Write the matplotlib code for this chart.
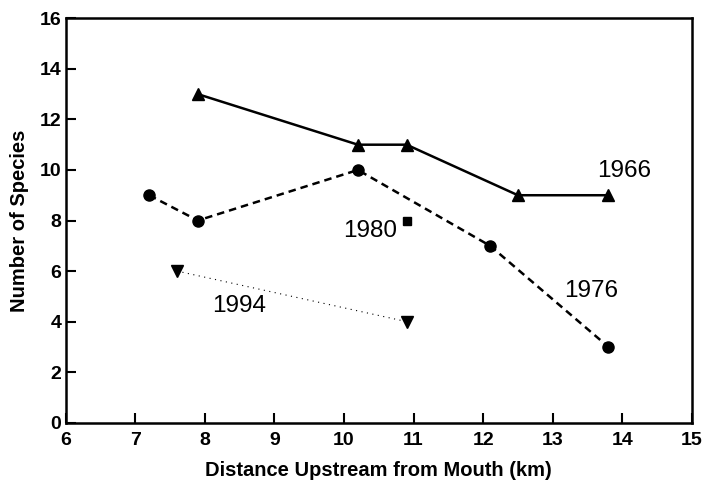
import matplotlib.pyplot as plt

# 物种数随离河口距离的变化
x_1966 = [7.9, 10.2, 10.9, 12.5, 13.8]
y_1966 = [13, 11, 11, 9, 9]

x_1976 = [7.2, 7.9, 10.2, 12.1, 13.8]
y_1976 = [9, 8, 10, 7, 3]

x_1980 = [10.9]
y_1980 = [8]

x_1994 = [7.6, 10.9]
y_1994 = [6, 4]

plt.rcParams['font.family'] = ['Liberation Sans', 'DejaVu Sans']

fig = plt.figure(figsize=(7.06, 4.82), dpi=100)
ax = fig.add_axes([0.093, 0.123, 0.887, 0.839])

ax.plot(x_1966, y_1966, color='black', linestyle='-', linewidth=1.8,
        marker='^', markersize=8)
ax.plot(x_1976, y_1976, color='black', linestyle=(0, (3, 2)), linewidth=1.8,
        marker='o', markersize=8)
ax.plot(x_1980, y_1980, color='black', linestyle='none', marker='s', markersize=6)
ax.plot(x_1994, y_1994, color='black', linestyle=(0, (1, 4)), linewidth=0.8,
        marker='v', markersize=8)

# 曲线标注
ax.text(14.03, 9.95, '1966', fontsize=17.5, ha='center', va='center')
ax.text(13.55, 5.2, '1976', fontsize=17.5, ha='center', va='center')
ax.text(10.37, 7.6, '1980', fontsize=17.5, ha='center', va='center')
ax.text(8.5, 4.6, '1994', fontsize=17.5, ha='center', va='center')

ax.set_xlim(6, 15)
ax.set_ylim(0, 16)
ax.set_xticks(range(6, 16))
ax.set_yticks(range(0, 17, 2))

ax.set_xlabel('Distance Upstream from Mouth (km)', fontsize=14.5, fontweight='bold', labelpad=8)
ax.set_ylabel('Number of Species', fontsize=14.5, fontweight='bold', labelpad=8)

ax.tick_params(direction='in', length=7, width=1.5, labelsize=14)
ax.tick_params(axis='x', pad=7)
ax.tick_params(axis='y', pad=3)
for label in ax.get_xticklabels() + ax.get_yticklabels():
    label.set_fontweight('bold')

for side in ['top', 'right', 'left', 'bottom']:
    ax.spines[side].set_linewidth(1.8)

plt.savefig('out.png', dpi=100)
